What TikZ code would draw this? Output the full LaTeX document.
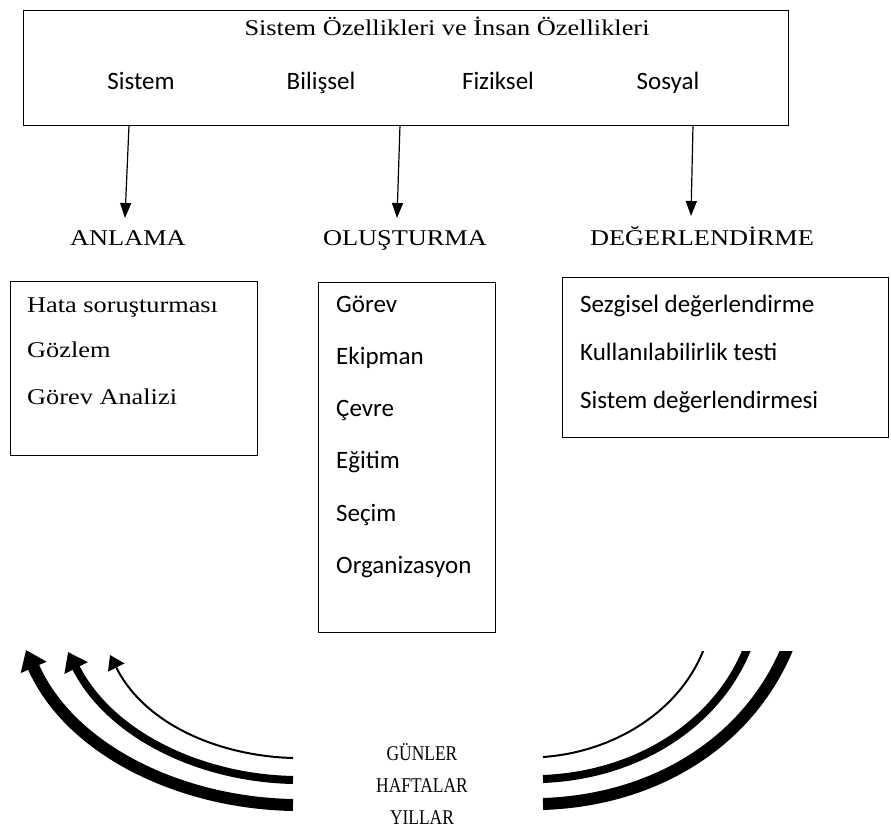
\documentclass[tikz,border=0pt]{standalone}
\usepackage{fontspec}
\setmainfont{Liberation Serif}
\newfontfamily\serifwide[FakeStretch=1.17]{Liberation Serif}
\newfontfamily\serifnarrow[FakeStretch=0.83]{Liberation Serif}
\newfontfamily\calib{Carlito}
\usetikzlibrary{arrows.meta}
\begin{document}
\begin{tikzpicture}[x=1pt,y=-1pt,
  box/.style={draw,line width=1.2pt,anchor=north west,inner sep=0pt},
  serif/.style={font=\serifwide\fontsize{22.5}{27}\selectfont,inner sep=0pt},
  sans/.style={font=\calib\fontsize{25}{30}\selectfont,inner sep=0pt},
  small/.style={font=\serifnarrow\fontsize{21}{25}\selectfont,inner sep=0pt},
  down/.style={line width=1.2pt,-{Triangle[length=15pt,width=11pt]}},
  sweep/.style={line cap=butt},
]
\useasboundingbox (0,0) rectangle (891,829);

% header box with the four characteristic groups
\node[box,minimum width=765pt,minimum height=115pt] (sysbox) at (23,10) {};
\node[serif,anchor=base] (title) at (447,36) {Sistem Özellikleri ve İnsan Özellikleri};
\node[sans,anchor=base] (sistem) at (141,90) {Sistem};
\node[sans,anchor=base] (bilissel) at (321,90) {Bilişsel};
\node[sans,anchor=base] (fiziksel) at (498,90) {Fiziksel};
\node[sans,anchor=base] (sosyal) at (668,90) {Sosyal};

% arrows down to the three stages
\coordinate (s1) at (129,125);
\coordinate (s2) at (400,125);
\coordinate (s3) at (693,125);
\coordinate (e1) at (125,218);
\coordinate (e2) at (397,218);
\coordinate (e3) at (691,216);
\draw[down] (s1) -- (e1);
\draw[down] (s2) -- (e2);
\draw[down] (s3) -- (e3);

% stage headings
\node[serif,anchor=base] (anlama) at (128,245) {ANLAMA};
\node[serif,anchor=base] (olusturma) at (405,245) {OLUŞTURMA};
\node[serif,anchor=base] (degerlendirme) at (702,245) {DEĞERLENDİRME};

% stage boxes
\node[box,minimum width=247pt,minimum height=174pt] (lbox) at (10,281) {};
\node[box,minimum width=177pt,minimum height=350pt] (mbox) at (318,282) {};
\node[box,minimum width=326pt,minimum height=160pt] (rbox) at (562,277) {};

\node[serif,anchor=base west] (l1) at (27,312) {Hata soruşturması};
\node[serif,anchor=base west] (l2) at (27,357.5) {Gözlem};
\node[serif,anchor=base west] (l3) at (27,404) {Görev Analizi};

\node[sans,anchor=base west] (m1) at (336,312) {Görev};
\node[sans,anchor=base west] (m2) at (336,364) {Ekipman};
\node[sans,anchor=base west] (m3) at (336,416.5) {Çevre};
\node[sans,anchor=base west] (m4) at (336,468.5) {Eğitim};
\node[sans,anchor=base west] (m5) at (336,521) {Seçim};
\node[sans,anchor=base west] (m6) at (336,573) {Organizasyon};

\node[sans,anchor=base west] (r1) at (580,312) {Sezgisel değerlendirme};
\node[sans,anchor=base west] (r2) at (580,360) {Kullanılabilirlik testi};
\node[sans,anchor=base west] (r3) at (580,408) {Sistem değerlendirmesi};

% time scale labels
\node[small,anchor=base] (gunler) at (422,760) {GÜNLER};
\node[small,anchor=base] (haftalar) at (422,792) {HAFTALAR};
\node[small,anchor=base] (yillar) at (422,824) {YILLAR};

% left sweeping arrows
\coordinate (la1) at (293,805);
\coordinate (la2) at (293,780);
\coordinate (la3) at (293,758);
\coordinate (lt1) at (26,650);
\coordinate (lt2) at (68,652);
\coordinate (lt3) at (110,655);
\draw[sweep,line width=12pt,-{Triangle[length=19pt,width=27pt]}]
  (la1) .. controls (180,803) and (70,750) .. (lt1);
\draw[sweep,line width=8pt,-{Triangle[length=18pt,width=25pt]}]
  (la2) .. controls (200,778) and (110,735) .. (lt2);
\draw[sweep,line width=2pt,-{Triangle[length=14pt,width=18pt]}]
  (la3) .. controls (220,756) and (145,725) .. (lt3);

% right sweeping bands, cut flat at the top
\coordinate (ra1) at (543,804);
\coordinate (ra2) at (543,779);
\coordinate (ra3) at (543,757);
\coordinate (rt1) at (789,644);
\coordinate (rt2) at (749,644);
\coordinate (rt3) at (705,646);
\begin{scope}
  \clip (500,651) rectangle (891,829);
  \draw[sweep,line width=12pt] (ra1) .. controls (660,800) and (752,738) .. (rt1);
  \draw[sweep,line width=8pt] (ra2) .. controls (640,775) and (720,722) .. (rt2);
  \draw[sweep,line width=2pt] (ra3) .. controls (615,752) and (682,710) .. (rt3);
\end{scope}
\end{tikzpicture}
\end{document}
